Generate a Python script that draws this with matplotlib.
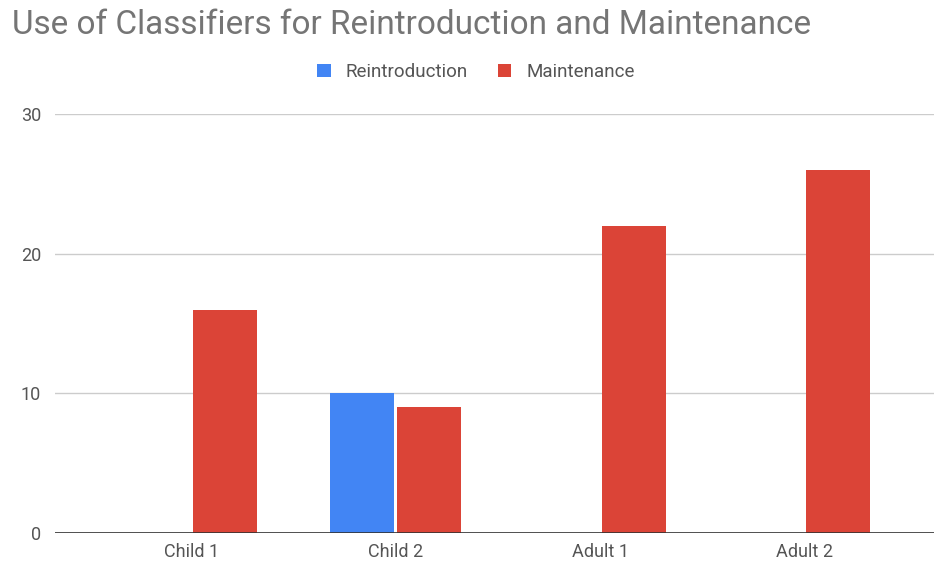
import matplotlib
matplotlib.use('Agg')
import matplotlib.pyplot as plt
import numpy as np

# Dados
categories = ['Child 1', 'Child 2', 'Adult 1', 'Adult 2']
reintroduction = [0, 10, 0, 0]
maintenance = [16, 9, 22, 26]

plt.rcParams['font.family'] = ['Roboto', 'DejaVu Sans']

fig = plt.figure(figsize=(9.34, 5.66), dpi=100)
ax = fig.add_axes([55 / 934, 1 - 533 / 566, 1 - 55 / 934, (533 - 114) / 566])

x = np.arange(len(categories))
w = 0.313
off = 0.164
ax.bar(x - off, reintroduction, w, color='#4285F4', label='Reintroduction', zorder=3)
ax.bar(x + off, maintenance, w, color='#DB4437', label='Maintenance', zorder=3)

ax.set_xlim(-0.667, 3.631)
ax.set_ylim(0, 30)
ax.set_yticks([0, 10, 20, 30])
ax.set_xticks(x)
ax.set_xticklabels(categories)
ax.grid(axis='y', color='#cccccc', linewidth=1, zorder=0)
ax.axhline(0, color='#333333', linewidth=1.2, zorder=4)
for s in ax.spines.values():
    s.set_visible(False)
ax.tick_params(length=0, labelsize=13, labelcolor='#555555')
ax.tick_params(axis='y', pad=10)
ax.tick_params(axis='x', pad=7)

fig.text(12 / 934, 1 - 25 / 566, 'Use of Classifiers for Reintroduction and Maintenance',
         fontsize=24, color='#757575', va='center', ha='left')
fig.legend(loc='center', bbox_to_anchor=(476 / 934, 1 - 72 / 566), ncol=2, frameon=False,
           fontsize=13.5, labelcolor='#555555', handlelength=0.7, handleheight=0.7,
           columnspacing=1.6, handletextpad=0.8)

fig.savefig('out.png', dpi=100)
